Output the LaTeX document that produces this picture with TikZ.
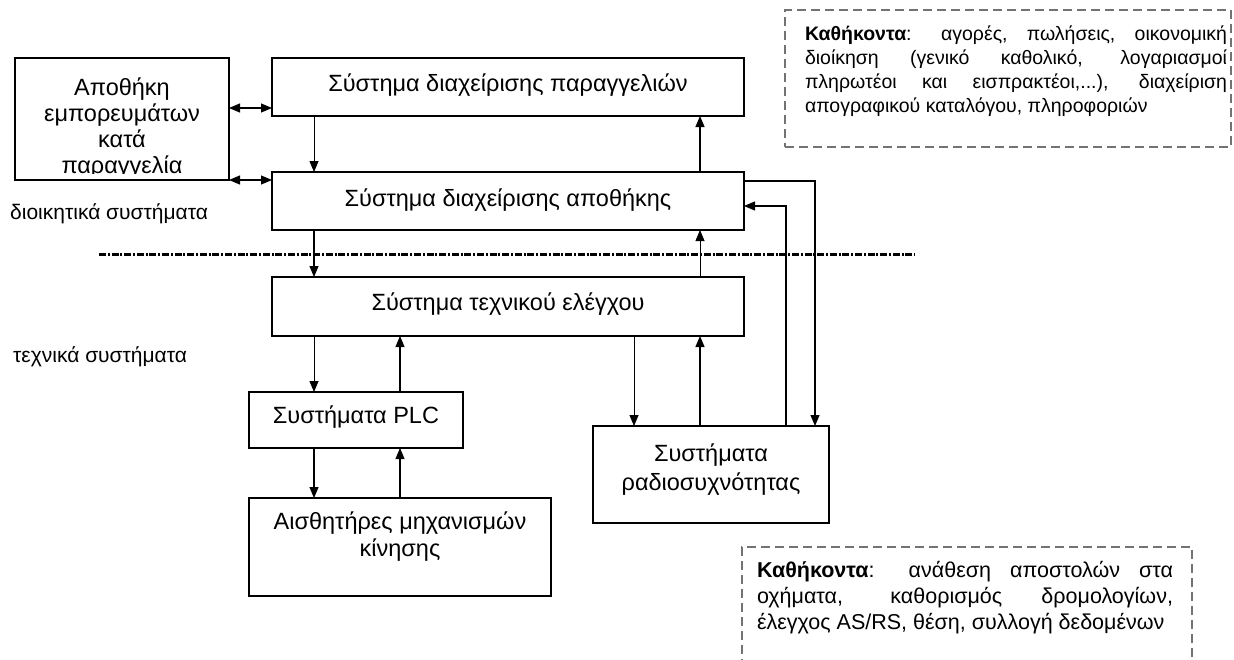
\documentclass[tikz,border=0pt]{standalone}
\usepackage{fontspec}
\setmainfont{Liberation Sans}
\usetikzlibrary{arrows.meta}
% #1 width, #2 height, #3 top pad, #4 baselineskip, #5 text
\newcommand{\bxt}[5]{\parbox[c][#2][t]{#1}{\centering\fontsize{23.5}{#4}\selectfont\vspace*{#3}\rule{0pt}{20pt}#5\par}}
\tikzset{
  boxline/.style={draw=black, line width=1.3pt},
  bx/.style={boxline, inner sep=0pt, outer sep=0pt, anchor=north west},
  arr/.style={line width=1.2pt, -{Triangle[length=11pt,width=9pt]}},
  arrthin/.style={line width=0.8pt, -{Triangle[length=11pt,width=9pt]}},
  dbl/.style={line width=1.2pt, {Triangle[length=11pt,width=9pt]}-{Triangle[length=11pt,width=9pt]}},
  sep/.style={line width=3pt, dash pattern=on 7pt off 1.8pt on 2pt off 1.8pt},
  dbox/.style={draw=black!55, line width=1.4pt, dash pattern=on 9pt off 5pt, inner sep=0pt, outer sep=0pt, anchor=north west},
  lbl/.style={anchor=west, inner sep=0pt, font=\fontsize{21}{25}\selectfont}
}
\begin{document}
\begin{tikzpicture}[x=1pt,y=-1pt]
\useasboundingbox (0,0) rectangle (1234,659);
\fill[white] (0,0) rectangle (1234,659);

% left warehouse box, text clipped at the bottom
\begin{scope}
\clip (15,58) rectangle (229,173);
\node[inner sep=0pt, outer sep=0pt, anchor=north west] (A) at (15,58)
  {\bxt{214pt}{122pt}{17pt}{26pt}{Αποθήκη\\ εμπορευμάτων\\ κατά\\ παραγγελία}};
\end{scope}
\draw[boxline] (A.north west) rectangle (A.south east);

\node[bx] (B) at (272,58)  {\bxt{472pt}{58pt}{13pt}{27pt}{Σύστημα διαχείρισης παραγγελιών}};
\node[bx] (C) at (272,172) {\bxt{472pt}{58pt}{14pt}{27pt}{Σύστημα διαχείρισης αποθήκης}};
\node[bx] (D) at (272,277) {\bxt{472pt}{59pt}{13pt}{27pt}{Σύστημα τεχνικού ελέγχου}};
\node[bx] (E) at (249,392) {\bxt{214pt}{56pt}{11pt}{27pt}{Συστήματα PLC}};
\node[bx] (F) at (249,498) {\bxt{302pt}{98pt}{11pt}{27pt}{Αισθητήρες μηχανισμών\\ κίνησης}};
\node[bx] (G) at (593,426) {\bxt{236pt}{97pt}{15pt}{29pt}{Συστήματα\\ ραδιοσυχνότητας}};

% side labels
\node[lbl] (L1) at (10,214) {διοικητικά συστήματα};
\node[lbl] (L2) at (13,357) {τεχνικά συστήματα};

% separator
\coordinate (sepL) at (99,254);
\coordinate (sepR) at (915,254);
\draw[sep] (sepL) -- (sepR);

% connectors
\draw[dbl] (A.east |- 0,108) -- (B.west |- 0,108);
\draw[dbl] (A.south east) -- (C.west |- A.south);
\draw[arrthin] (B.south -| 314,0) -- (C.north -| 314,0);
\draw[arr] (C.north -| 700,0) -- (B.south -| 700,0);
\draw[arr] (C.south -| 314,0) -- (D.north -| 314,0);
\draw[arrthin] (D.north -| 700,0) -- (C.south -| 700,0);
\draw[arrthin] (D.south -| 314,0) -- (E.north -| 314,0);
\draw[arr] (E.north -| 400,0) -- (D.south -| 400,0);
\draw[arr] (E.south -| 314,0) -- (F.north -| 314,0);
\draw[arr] (F.north -| 400,0) -- (E.south -| 400,0);
\draw[arrthin] (D.south -| 634,0) -- (G.north -| 634,0);
\draw[arr] (G.north -| 700,0) -- (D.south -| 700,0);
\draw[arr] (C.east |- 0,181) -| (G.north -| 815,0);
\draw[arr] (G.north -| 786,0) |- (C.east |- 0,206);

% description boxes
\node[dbox] (T1) at (785,10) {\parbox[c][137pt][t]{446pt}{\vspace*{15pt}\hspace*{20pt}\parbox[t]{422pt}{\fontsize{19.5}{24}\selectfont\rule{0pt}{15pt}\textbf{Καθήκοντα}: αγορές, πωλήσεις, οικονομική\linebreak διοίκηση (γενικό καθολικό, λογαριασμοί\linebreak πληρωτέοι και εισπρακτέοι,...), διαχείριση\linebreak απογραφικού καταλόγου, πληροφοριών}}};
\node[dbox] (T2) at (742,547) {\parbox[c][150pt][t]{450pt}{\vspace*{13pt}\hspace*{15pt}\parbox[t]{416pt}{\fontsize{21.5}{26}\selectfont\rule{0pt}{17pt}\textbf{Καθήκοντα}: ανάθεση αποστολών στα\linebreak οχήματα, καθορισμός δρομολογίων,\linebreak έλεγχος AS/RS, θέση, συλλογή δεδομένων}}};
\end{tikzpicture}
\end{document}
